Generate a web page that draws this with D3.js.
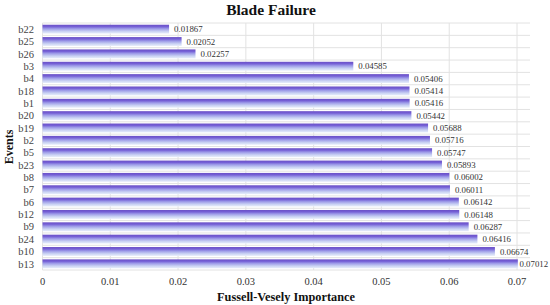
<!DOCTYPE html>
<html><head><meta charset="utf-8">
<script src="https://cdn.jsdelivr.net/npm/d3@7"></script>
<style>body{margin:0;background:#fff}svg{display:block}</style>
</head><body>
<script>
const events = ["b22","b25","b26","b3","b4","b18","b1","b20","b19","b2","b5","b23","b8","b7","b6","b12","b9","b24","b10","b13"];
const values = [0.01867,0.02052,0.02257,0.04585,0.05406,0.05414,0.05416,0.05442,0.05688,0.05716,0.05747,0.05893,0.06002,0.06011,0.06142,0.06148,0.06287,0.06416,0.06674,0.07012];
const xTicks = [0,0.01,0.02,0.03,0.04,0.05,0.06,0.07];
const tickLabels = ["0","0.01","0.02","0.03","0.04","0.05","0.06","0.07"];

(function(){
const W=550,H=305;
const mLeft=42.5, mRight=517, mTop=23, mBottom=270, plotRight=530;
const svg=d3.select("body").append("svg").attr("width",W).attr("height",H);
const font="'Liberation Serif','Times New Roman',serif";

const defs=svg.append("defs");
const g=defs.append("linearGradient").attr("id","bg").attr("x1",0).attr("y1",0).attr("x2",0).attr("y2",1);
[[0,"#6a4fc6"],[0.22,"#7560d6"],[0.45,"#9d9be8"],[0.75,"#c9d2f3"],[1,"#e8eefb"]].forEach(([o,c])=>g.append("stop").attr("offset",o).attr("stop-color",c));

const x=d3.scaleLinear().domain([0,0.07]).range([mLeft,mRight]);
const y=d3.scaleBand().domain(events).range([mTop,mBottom]).paddingInner(0.28).paddingOuter(0.14);
const yb=d3.scaleBand().domain(events).range([mTop,mBottom]);

svg.append("g").selectAll("line").data(events.concat(["__end"])).join("line")
 .attr("x1",mLeft).attr("x2",plotRight)
 .attr("y1",(d,i)=>mTop+i*yb.step()).attr("y2",(d,i)=>mTop+i*yb.step())
 .attr("stroke","#e2e2e2").attr("stroke-width",1);
svg.append("g").selectAll("line").data(xTicks).join("line")
 .attr("x1",d=>x(d)).attr("x2",d=>x(d)).attr("y1",mTop).attr("y2",mBottom)
 .attr("stroke","#e2e2e2").attr("stroke-width",1);

svg.append("g").selectAll("rect").data(values).join("rect")
 .attr("x",x(0)).attr("y",(d,i)=>y(events[i]))
 .attr("width",d=>x(d)-x(0)).attr("height",y.bandwidth())
 .attr("fill","url(#bg)");

svg.append("g").selectAll("text").data(values).join("text")
 .attr("x",d=>Math.min(x(d)+5,519.5)).attr("y",(d,i)=>y(events[i])+y.bandwidth()/2)
 .attr("dy","0.35em").attr("font-family",font).attr("font-size",8.8).attr("fill","#333")
 .text(d=>d.toFixed(5));

svg.append("g").selectAll("text").data(events).join("text")
 .attr("x",34).attr("y",d=>y(d)+y.bandwidth()/2).attr("dy","0.35em")
 .attr("text-anchor","end").attr("font-family",font).attr("font-size",10.5).attr("fill","#444").text(d=>d);

svg.append("g").selectAll("text").data(xTicks).join("text")
 .attr("x",d=>x(d)).attr("y",285).attr("text-anchor","middle")
 .attr("font-family",font).attr("font-size",10.5).attr("fill","#333").text((d,i)=>tickLabels[i]);

svg.append("text").attr("x",271).attr("y",15).attr("text-anchor","middle")
 .attr("font-family",font).attr("font-weight","bold").attr("font-size",15.5).attr("fill","#111").text("Blade Failure");
svg.append("text").attr("x",286).attr("y",301).attr("text-anchor","middle")
 .attr("font-family",font).attr("font-weight","bold").attr("font-size",12.3).attr("fill","#111").text("Fussell-Vesely Importance");
svg.append("text").attr("transform","translate(13,147) rotate(-90)").attr("text-anchor","middle")
 .attr("font-family",font).attr("font-weight","bold").attr("font-size",12).attr("fill","#111").text("Events");
})();
</script>
</body></html>
